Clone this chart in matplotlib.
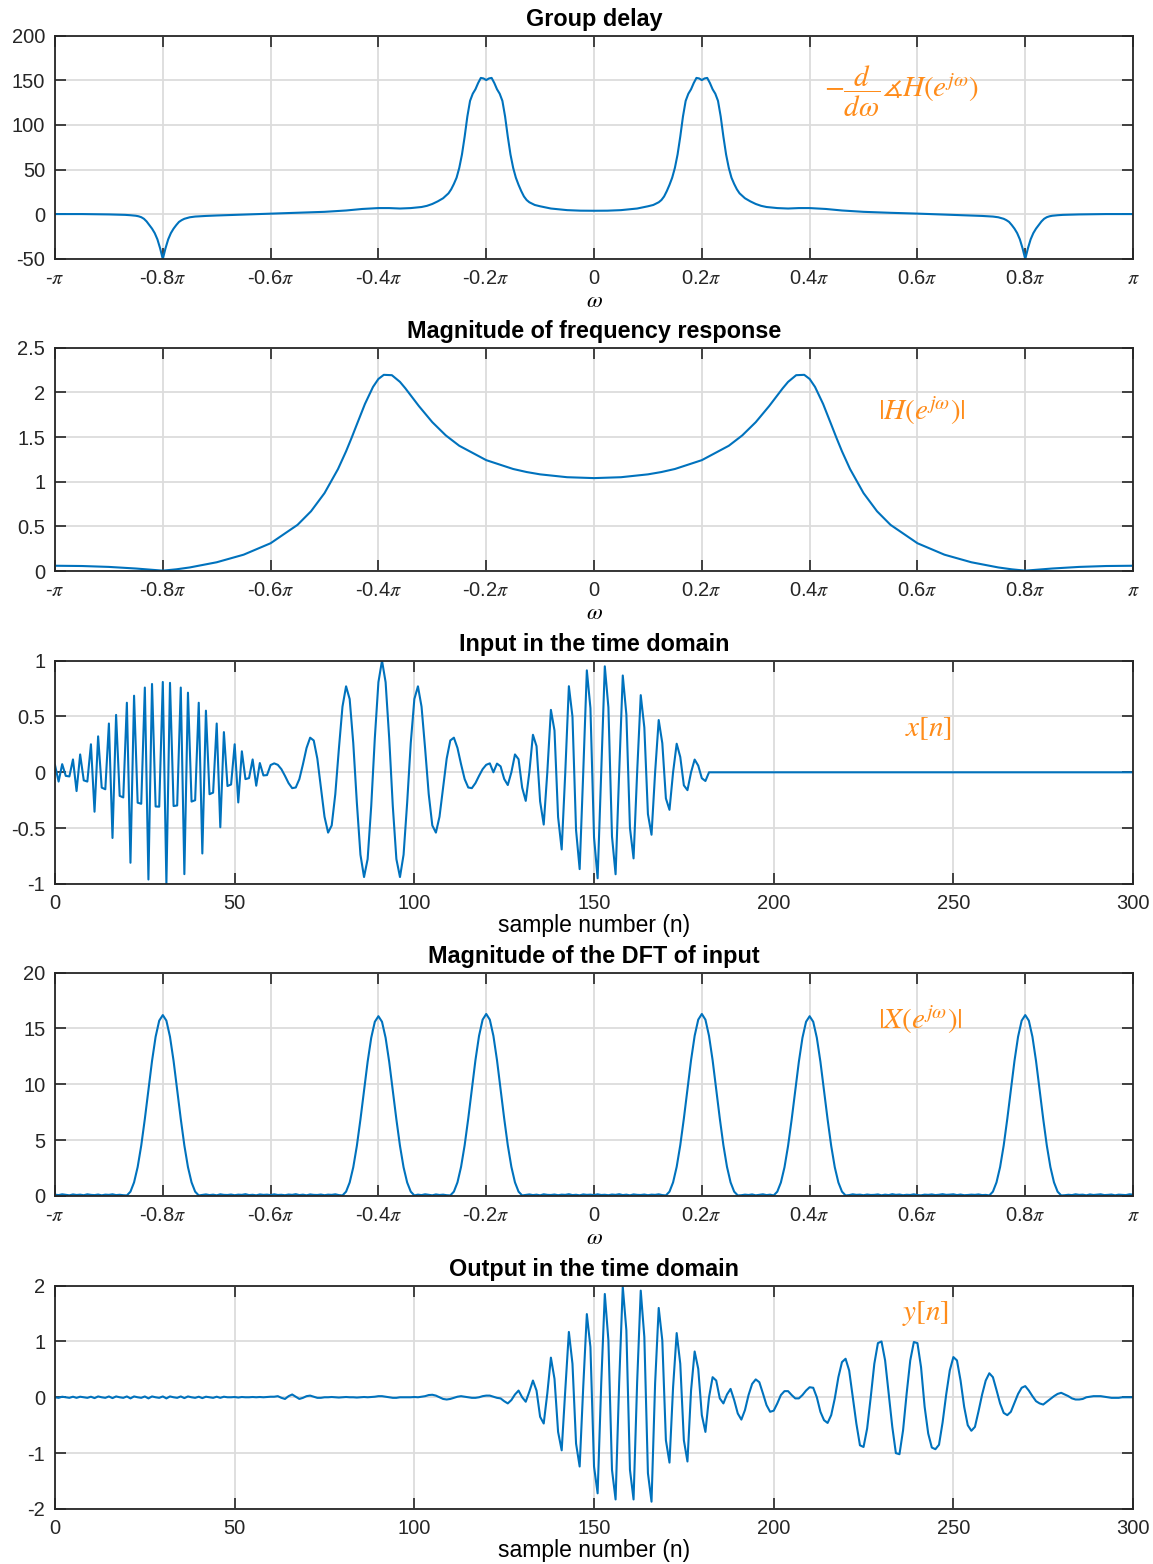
import numpy as np
import matplotlib
matplotlib.use("Agg")
import matplotlib.pyplot as plt

plt.rcParams['font.family'] = ['Liberation Sans', 'DejaVu Sans']
plt.rcParams['mathtext.fontset'] = 'stix'

BLUE = '#0072BD'
ORANGE = '#FF8C1A'
GRID = '#DCDCDC'
DARK = '#262626'

# ---- group delay, omega in units of pi ----
gd_w = [-1.0, -0.95, -0.90, -0.87, -0.86, -0.85, -0.845, -0.84, -0.835, -0.83,
        -0.825, -0.82, -0.815, -0.81, -0.805, -0.80, -0.795, -0.79, -0.785, -0.78,
        -0.775, -0.77, -0.765, -0.76, -0.75, -0.74, -0.72, -0.70, -0.65, -0.60,
        -0.55, -0.50, -0.46, -0.43, -0.40, -0.38, -0.36, -0.34, -0.32, -0.31,
        -0.30, -0.29, -0.28, -0.27, -0.265, -0.26, -0.255, -0.25, -0.245, -0.24,
        -0.235, -0.23, -0.225, -0.22, -0.215, -0.21, -0.205, -0.20, -0.195, -0.19,
        -0.185, -0.18, -0.175, -0.17, -0.165, -0.16, -0.155, -0.15, -0.145, -0.14,
        -0.135, -0.13, -0.125, -0.12, -0.11, -0.10, -0.08, -0.05, -0.025, 0.0,
        0.025, 0.05, 0.08, 0.10, 0.11, 0.12, 0.125, 0.13, 0.135, 0.14,
        0.145, 0.15, 0.155, 0.16, 0.165, 0.17, 0.175, 0.18, 0.185, 0.19,
        0.195, 0.20, 0.205, 0.21, 0.215, 0.22, 0.225, 0.23, 0.235, 0.24,
        0.245, 0.25, 0.255, 0.26, 0.265, 0.27, 0.28, 0.29, 0.30, 0.31,
        0.32, 0.34, 0.36, 0.38, 0.40, 0.43, 0.46, 0.50, 0.55, 0.60,
        0.65, 0.70, 0.72, 0.74, 0.75, 0.76, 0.765, 0.77, 0.775, 0.78,
        0.785, 0.79, 0.795, 0.80, 0.805, 0.81, 0.815, 0.82, 0.825, 0.83,
        0.835, 0.84, 0.845, 0.85, 0.86, 0.87, 0.90, 0.95, 1.0]
gd_val = [0.3, 0.3, -0.1, -0.6, -1.0, -1.6, -2.2, -3.2, -5.0, -8.0,
          -12.0, -16.0, -21.0, -28.0, -38.0, -50.0, -38.0, -28.0, -21.0, -16.0,
          -12.0, -8.5, -6.5, -5.0, -3.3, -2.5, -1.8, -1.3, -0.3, 0.8,
          1.7, 2.8, 4.3, 6.0, 7.0, 7.0, 6.5, 7.0, 8.2, 9.5,
          11.6, 14.5, 18.0, 23.5, 28.0, 34.0, 41.0, 52.0, 67.0, 87.0,
          109.5, 127.0, 135.0, 140.0, 147.0, 152.7, 152.1, 150.3, 152.1, 152.7,
          147.0, 140.0, 135.0, 127.0, 109.5, 87.0, 67.0, 52.0, 41.0, 33.0,
          26.0, 20.0, 16.0, 13.5, 10.5, 9.0, 6.5, 4.7, 4.1, 4.0,
          4.1, 4.7, 6.5, 9.0, 10.5, 13.5, 16.0, 20.0, 26.0, 33.0,
          41.0, 52.0, 67.0, 87.0, 109.5, 127.0, 135.0, 140.0, 147.0, 152.7,
          152.1, 150.3, 152.1, 152.7, 147.0, 140.0, 135.0, 127.0, 109.5, 87.0,
          67.0, 52.0, 41.0, 34.0, 28.0, 23.5, 18.0, 14.5, 11.6, 9.5,
          8.2, 7.0, 6.5, 7.0, 7.0, 6.0, 4.3, 2.8, 1.7, 0.8,
          -0.3, -1.3, -1.8, -2.5, -3.3, -5.0, -6.5, -8.5, -12.0, -16.0,
          -21.0, -28.0, -38.0, -50.0, -38.0, -28.0, -21.0, -16.0, -12.0, -8.0,
          -5.0, -3.2, -2.2, -1.6, -1.0, -0.6, -0.1, 0.3, 0.3]

# ---- magnitude of frequency response ----
mag_w = [-1.0, -0.95, -0.90, -0.85, -0.825, -0.80, -0.775, -0.75, -0.70, -0.65,
         -0.60, -0.55, -0.525, -0.50, -0.475, -0.46, -0.45, -0.44, -0.425, -0.41,
         -0.40, -0.39, -0.375, -0.36, -0.35, -0.325, -0.30, -0.275, -0.25, -0.20,
         -0.15, -0.125, -0.10, -0.05, 0.0,
         0.05, 0.10, 0.125, 0.15, 0.20, 0.25, 0.275, 0.30, 0.325, 0.35,
         0.36, 0.375, 0.39, 0.40, 0.41, 0.425, 0.44, 0.45, 0.46, 0.475,
         0.50, 0.525, 0.55, 0.60, 0.65, 0.70, 0.75, 0.775, 0.80, 0.825,
         0.85, 0.90, 0.95, 1.0]
mag_val = [0.059, 0.056, 0.046, 0.028, 0.016, 0.004, 0.019, 0.040, 0.098, 0.183,
           0.311, 0.517, 0.669, 0.872, 1.141, 1.340, 1.487, 1.641, 1.870, 2.061,
           2.150, 2.196, 2.192, 2.117, 2.045, 1.847, 1.666, 1.518, 1.402, 1.241,
           1.142, 1.108, 1.082, 1.050, 1.040,
           1.050, 1.082, 1.108, 1.142, 1.241, 1.402, 1.518, 1.666, 1.847, 2.045,
           2.117, 2.192, 2.196, 2.150, 2.061, 1.870, 1.641, 1.487, 1.340, 1.141,
           0.872, 0.669, 0.517, 0.311, 0.183, 0.098, 0.040, 0.019, 0.004, 0.016,
           0.028, 0.046, 0.056, 0.059]

# ---- input x[n], n = 0..300 ----
x_pulse = [
    # 0.8*pi burst, n = 0..60
    0.065, -0.083, 0.073, -0.032, -0.037, 0.115, -0.168, 0.160, -0.072, -0.083,
    0.251, -0.353, 0.322, -0.137, -0.152, 0.437, -0.588, 0.514, -0.211, -0.225,
    0.623, -0.810, 0.686, -0.272, -0.282, 0.759, -0.960, 0.791, -0.306, -0.308,
    0.809, -0.998, 0.801, -0.302, -0.297, 0.759, -0.912, 0.713, -0.262, -0.250,
    0.623, -0.727, 0.552, -0.196, -0.182, 0.437, -0.492, 0.360, -0.123, -0.109,
    0.251, -0.270, 0.188, -0.061, -0.052, 0.115, -0.120, 0.083, -0.028, -0.025,
    0.065,
    # 0.2*pi burst, n = 61..121
    0.080, 0.067, 0.028, -0.032, -0.097, -0.142, -0.136, -0.061, 0.072, 0.218,
    0.310, 0.285, 0.123, -0.137, -0.398, -0.540, -0.476, -0.196, 0.211, 0.588,
    0.770, 0.656, 0.262, -0.272, -0.738, -0.938, -0.777, -0.302, 0.306, 0.807,
    1.000, 0.807, 0.306, -0.302, -0.777, -0.938, -0.738, -0.272, 0.262, 0.656,
    0.770, 0.588, 0.211, -0.196, -0.476, -0.540, -0.398, -0.137, 0.123, 0.285,
    0.310, 0.218, 0.072, -0.061, -0.136, -0.142, -0.097, -0.032, 0.028, 0.067,
    0.080,
    # 0.4*pi burst, n = 122..182
    0.000, 0.078, 0.053, -0.060, -0.114, 0.000, 0.160, 0.117, -0.137, -0.256,
    0.000, 0.336, 0.234, -0.261, -0.468, 0.000, 0.559, 0.374, -0.401, -0.691,
    0.000, 0.771, 0.499, -0.518, -0.867, 0.000, 0.913, 0.575, -0.582, -0.949,
    0.000, 0.949, 0.582, -0.575, -0.913, 0.000, 0.867, 0.518, -0.499, -0.771,
    0.000, 0.691, 0.401, -0.374, -0.559, 0.000, 0.468, 0.261, -0.234, -0.336,
    0.000, 0.256, 0.137, -0.117, -0.160, 0.000, 0.114, 0.060, -0.053, -0.078,
    0.000,
]
x_tail = [0.0] * 118   # n = 183..300
x_vals = x_pulse + x_tail

# ---- |X(e^jw)| at 301 bins from -pi to pi ----
dft_mag = [
    0.12, 0.08, 0.15, 0.10, 0.06, 0.14, 0.09, 0.12, 0.07, 0.15,
    0.10, 0.08, 0.13, 0.06, 0.12, 0.10, 0.15, 0.08, 0.11, 0.07,
    # lobe at -0.8pi
    0.05, 0.39, 1.22, 2.59, 4.52, 6.90, 9.53, 12.09, 14.26, 15.70, 16.20,
    15.70, 14.26, 12.09, 9.53, 6.90, 4.52, 2.59, 1.22, 0.39, 0.05,
    0.10, 0.14, 0.08, 0.12, 0.06, 0.15, 0.10, 0.09, 0.13, 0.07,
    0.12, 0.10, 0.16, 0.08, 0.11, 0.06, 0.14, 0.10, 0.12, 0.08,
    0.15, 0.09, 0.11, 0.07, 0.13, 0.10, 0.16, 0.08, 0.12, 0.06,
    0.14, 0.10, 0.09, 0.13, 0.07, 0.12, 0.10, 0.15, 0.08,
    # lobe at -0.4pi
    0.05, 0.39, 1.21, 2.57, 4.49, 6.86, 9.47, 12.02, 14.17, 15.60, 16.10,
    15.60, 14.17, 12.02, 9.47, 6.86, 4.49, 2.57, 1.21, 0.39, 0.05,
    0.12, 0.08, 0.15, 0.10, 0.06, 0.14, 0.09, 0.12, 0.07,
    # lobe at -0.2pi
    0.05, 0.39, 1.22, 2.61, 4.55, 6.94, 9.59, 12.16, 14.34, 15.79, 16.30,
    15.79, 14.34, 12.16, 9.59, 6.94, 4.55, 2.61, 1.22, 0.39, 0.05,
    0.10, 0.14, 0.08, 0.12, 0.06, 0.15, 0.10, 0.09, 0.13, 0.07,
    0.12, 0.10, 0.16, 0.08, 0.11, 0.06, 0.14, 0.10, 0.12, 0.08,
    0.15, 0.09, 0.11, 0.07, 0.13, 0.10, 0.16, 0.08, 0.12, 0.06,
    0.14, 0.10, 0.09, 0.13, 0.07, 0.12, 0.10, 0.15, 0.08,
    # lobe at 0.2pi
    0.05, 0.39, 1.22, 2.61, 4.55, 6.94, 9.59, 12.16, 14.34, 15.79, 16.30,
    15.79, 14.34, 12.16, 9.59, 6.94, 4.55, 2.61, 1.22, 0.39, 0.05,
    0.07, 0.12, 0.09, 0.14, 0.06, 0.10, 0.15, 0.08, 0.12,
    # lobe at 0.4pi
    0.05, 0.39, 1.21, 2.57, 4.49, 6.86, 9.47, 12.02, 14.17, 15.60, 16.10,
    15.60, 14.17, 12.02, 9.47, 6.86, 4.49, 2.57, 1.21, 0.39, 0.05,
    0.08, 0.15, 0.10, 0.12, 0.07, 0.13, 0.09, 0.10, 0.14, 0.06,
    0.12, 0.08, 0.16, 0.10, 0.13, 0.07, 0.11, 0.09, 0.15, 0.08,
    0.06, 0.12, 0.10, 0.14, 0.08, 0.11, 0.16, 0.10, 0.12, 0.15,
    0.08, 0.13, 0.07, 0.09, 0.12, 0.10, 0.14, 0.08, 0.10,
    # lobe at 0.8pi
    0.05, 0.39, 1.22, 2.59, 4.52, 6.90, 9.53, 12.09, 14.26, 15.70, 16.20,
    15.70, 14.26, 12.09, 9.53, 6.90, 4.52, 2.59, 1.22, 0.39, 0.05,
    0.07, 0.11, 0.08, 0.15, 0.10, 0.12, 0.06, 0.14, 0.09, 0.12,
    0.15, 0.08, 0.10, 0.13, 0.06, 0.12, 0.10, 0.08, 0.15, 0.12,
]
dft_w = np.linspace(-1, 1, len(dft_mag))

# ---- output y[n], n = 0..300 ----
y_vals = [
    0.00, -0.01, 0.01, 0.00, -0.01, 0.01, -0.01, 0.01, 0.00, -0.01,
    0.01, -0.015, 0.015, 0.00, -0.01, 0.015, -0.015, 0.015, 0.00, -0.01,
    0.015, -0.02, 0.015, 0.00, -0.01, 0.015, -0.02, 0.015, 0.00, -0.01,
    0.015, -0.02, 0.015, 0.00, -0.01, 0.015, -0.015, 0.015, 0.00, -0.01,
    0.01, -0.015, 0.01, 0.00, -0.01, 0.01, -0.01, 0.01, 0.00, 0.00,
    0.005, -0.005, 0.005, 0.00, 0.00, 0.005, 0.00, 0.005, 0.00, 0.005,
    0.01,
    0.01, 0.02, -0.01, -0.03, 0.02, 0.05, 0.01, -0.03, -0.01, 0.02,
    0.03, 0.01, -0.01, -0.01, 0.00,
    0.00, 0.005, 0.00, -0.005, 0.00, 0.005, 0.00, 0.00, -0.005, 0.00,
    0.005, 0.00, 0.005,
    0.01, 0.02, 0.02, 0.01, 0.00, -0.01, -0.01, 0.00, 0.00, 0.00,
    0.00, 0.005, 0.00, 0.01,
    0.02, 0.04, 0.045, 0.03, 0.00, -0.03, -0.04, -0.03, -0.01, 0.01,
    0.02, 0.01, 0.00, -0.01, -0.01, 0.00, 0.02, 0.03, 0.03, 0.01,
    -0.01, -0.02,
    -0.07, -0.11, -0.05, 0.05, 0.12, 0.00, -0.08, 0.10, 0.30, 0.12,
    -0.35, -0.47,
    0.07, 0.71, 0.33, -0.62, -0.95, 0.13, 1.17, 0.60, -0.83, -1.24,
    0.19, 1.49, 0.90, -1.24, -1.72, 0.24, 1.85, 1.02, -1.30, -1.83,
    0.27, 1.98, 1.20, -1.30, -1.83, 0.27, 1.91, 1.08, -1.36, -1.87,
    0.25, 1.60, 1.02, -0.77, -1.17, 0.18, 1.15, 0.60, -0.77, -1.15,
    0.12, 0.82, 0.51, -0.32, -0.62, 0.00, 0.36, 0.30, -0.02, -0.11,
    0.05, 0.15, -0.05, -0.29, -0.40, -0.23, 0.04, 0.24, 0.32, 0.27,
    0.07, -0.14, -0.26, -0.24, -0.11, 0.04, 0.11, 0.11, 0.04, -0.02,
    -0.02, 0.04, 0.12, 0.18, 0.17, 0.00, -0.26, -0.41, -0.46, -0.32,
    -0.02, 0.36, 0.63, 0.69, 0.48, 0.00, -0.47, -0.86, -0.89, -0.56,
    0.00, 0.60, 0.97, 1.00, 0.66, 0.07, -0.53, -1.00, -1.02, -0.59,
    0.07, 0.66, 0.99, 0.97, 0.54, -0.17, -0.65, -0.90, -0.93, -0.85,
    -0.45, 0.05, 0.48, 0.72, 0.66, 0.30, -0.17, -0.50, -0.60, -0.53,
    -0.25, 0.05, 0.30, 0.43, 0.36, 0.13, -0.11, -0.28, -0.32, -0.26,
    -0.10, 0.06, 0.17, 0.20, 0.12, 0.02, -0.07, -0.11, -0.13, -0.08,
    -0.03, 0.02, 0.06, 0.08, 0.05, 0.02, -0.02, -0.04, -0.04, -0.03,
    0.00, 0.01, 0.02, 0.02, 0.02, 0.01, 0.00, -0.01, -0.01, -0.01,
    0.00, 0.00, 0.00, 0.00,
]

pi_ticks = [-1, -0.8, -0.6, -0.4, -0.2, 0, 0.2, 0.4, 0.6, 0.8, 1]
pi_labels = ['-$\\pi$', '-0.8$\\pi$', '-0.6$\\pi$', '-0.4$\\pi$', '-0.2$\\pi$', '0',
             '0.2$\\pi$', '0.4$\\pi$', '0.6$\\pi$', '0.8$\\pi$', '$\\pi$']
n_ticks = [0, 50, 100, 150, 200, 250, 300]


def style(ax, title, xlim, ylim, xticks, xlabels, yticks, ylabels, xlabel):
    ax.set_xlim(xlim)
    ax.set_ylim(ylim)
    ax.set_xticks(xticks)
    ax.set_xticklabels(xlabels)
    ax.set_yticks(yticks)
    ax.set_yticklabels(ylabels)
    ax.grid(True, color=GRID, linewidth=1.3)
    ax.set_axisbelow(True)
    ax.tick_params(direction='in', length=8, width=1.2, top=True, right=True,
                   labelsize=14.5, colors=DARK, pad=7)
    for s in ax.spines.values():
        s.set_linewidth(1.3)
        s.set_color(DARK)
    ax.set_title(title, fontsize=16.8, fontweight='bold', pad=7)
    ax.set_xlabel(xlabel, fontsize=16.5, labelpad=1)


def label(ax, x, y, s):
    ax.text(x, y, s, transform=ax.transAxes, color=ORANGE, fontsize=21, va='center')


fig = plt.figure(figsize=(11.53, 15.64), dpi=100)
L, W = 0.0477, 0.935
bottoms = [0.8344, 0.6349, 0.4348, 0.2353, 0.0352]
H = 0.1428

# group delay
ax1 = fig.add_axes([L, bottoms[0], W, H])
ax1.plot(gd_w, gd_val, color=BLUE, lw=1.5)
style(ax1, 'Group delay', (-1, 1), (-50, 200), pi_ticks, pi_labels,
      [-50, 0, 50, 100, 150, 200], ['-50', '0', '50', '100', '150', '200'], '$\\omega$')
label(ax1, 0.713, 0.75, '$-\\dfrac{d}{d\\omega}\\measuredangle H(e^{j\\omega})$')

# magnitude of frequency response
ax2 = fig.add_axes([L, bottoms[1], W, H])
ax2.plot(mag_w, mag_val, color=BLUE, lw=1.5)
style(ax2, 'Magnitude of frequency response', (-1, 1), (0, 2.5), pi_ticks, pi_labels,
      [0, 0.5, 1, 1.5, 2, 2.5], ['0', '0.5', '1', '1.5', '2', '2.5'], '$\\omega$')
label(ax2, 0.763, 0.72, '$|H(e^{j\\omega})|$')

# input
ax3 = fig.add_axes([L, bottoms[2], W, H])
ax3.plot(np.arange(len(x_vals)), x_vals, color=BLUE, lw=1.5)
style(ax3, 'Input in the time domain', (0, 300), (-1, 1), n_ticks,
      [str(t) for t in n_ticks], [-1, -0.5, 0, 0.5, 1], ['-1', '-0.5', '0', '0.5', '1'],
      'sample number (n)')
label(ax3, 0.788, 0.70, '$x[n]$')

# DFT of input
ax4 = fig.add_axes([L, bottoms[3], W, H])
ax4.plot(dft_w, dft_mag, color=BLUE, lw=1.5)
style(ax4, 'Magnitude of the DFT of input', (-1, 1), (0, 20), pi_ticks, pi_labels,
      [0, 5, 10, 15, 20], ['0', '5', '10', '15', '20'], '$\\omega$')
label(ax4, 0.763, 0.79, '$|X(e^{j\\omega})|$')

# output
ax5 = fig.add_axes([L, bottoms[4], W, H])
ax5.plot(np.arange(len(y_vals)), y_vals, color=BLUE, lw=1.5)
style(ax5, 'Output in the time domain', (0, 300), (-2, 2), n_ticks,
      [str(t) for t in n_ticks], [-2, -1, 0, 1, 2], ['-2', '-1', '0', '1', '2'],
      'sample number (n)')
label(ax5, 0.786, 0.875, '$y[n]$')

fig.savefig('out.png', dpi=100)
